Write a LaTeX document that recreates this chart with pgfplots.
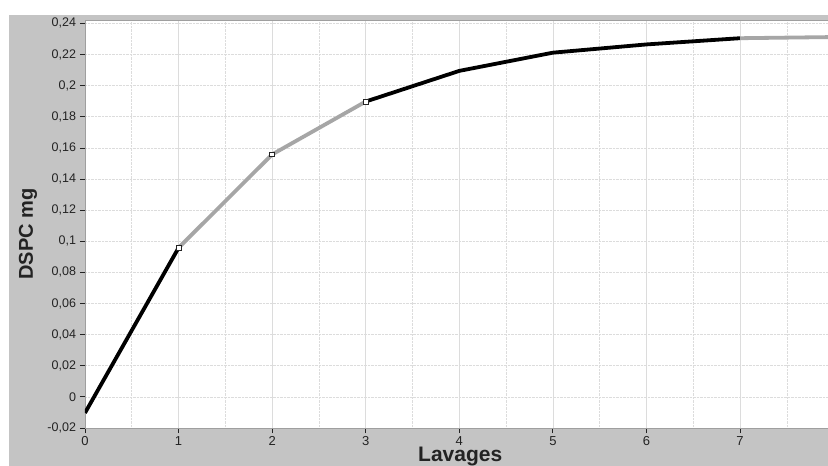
\documentclass[border=0pt]{standalone}
\usepackage{pgfplots}
\pgfplotsset{compat=1.18}
\usepackage{fontspec}
\setmainfont{Liberation Sans}
\definecolor{bg}{RGB}{196,196,196}
\definecolor{lgray}{RGB}{166,166,166}
\definecolor{txt}{RGB}{35,35,35}
\definecolor{gridc}{RGB}{220,220,220}
\begin{document}
\begin{tikzpicture}[x=1pt,y=1pt]
\path[use as bounding box] (0,0) rectangle (828,466);
\fill[bg] (9,0) rectangle (828,451);
\begin{axis}[
  at={(85pt,38pt)}, anchor=south west,
  scale only axis, width=743pt, height=408pt,
  xmin=0, xmax=7.94, ymin=-0.02, ymax=0.2422,
  xtick={0,1,2,3,4,5,6,7},
  minor xtick={0.5,1.5,2.5,3.5,4.5,5.5,6.5,7.5},
  ytick={-0.02,0,0.02,0.04,0.06,0.08,0.1,0.12,0.14,0.16,0.18,0.2,0.22,0.24},
  xmajorgrids, xminorgrids, ymajorgrids,
  major x grid style={gridc, line width=0.6pt},
  minor x grid style={gridc, densely dotted, line width=0.6pt},
  major y grid style={gridc, densely dotted, line width=0.6pt},
  tick pos=left, tick align=outside,
  major tick length=5pt, minor tick length=0pt,
  tick style={txt, line width=0.8pt},
  axis background/.style={fill=white},
  axis line style={draw=gray!75, line width=0.8pt},
  /pgf/number format/assume math mode=true,
  /pgf/number format/use comma,
  tick label style={font=\fontsize{12.5}{14}\selectfont, text=txt},
  xticklabel style={inner sep=0pt, yshift=-3pt, font=\fontsize{13}{14}\selectfont},
  yticklabel style={xshift=-0.5pt, font=\fontsize{12.5}{14}\selectfont, /pgf/number format/fixed, /pgf/number format/precision=2},
  xlabel={\textbf{Lavages}},
  ylabel={\textbf{DSPC mg}},
  xlabel style={at={(rel axis cs:0.505,0)}, anchor=base, inner sep=0pt, yshift=-34pt, font=\fontsize{21}{24}\selectfont, text=txt},
  ylabel style={at={(rel axis cs:-0.0767,0.4755)}, anchor=center, font=\fontsize{20}{24}\selectfont, text=txt},
  clip=true,
]
\addplot[black, line width=3.8pt, line join=round] coordinates {(0,-0.0103) (1,0.0958)};
\addplot[lgray, line width=3.8pt, line join=round] coordinates {(1,0.0958) (2,0.1558) (3,0.1898)};
\addplot[black, line width=3.8pt, line join=round] coordinates {(3,0.1898) (4,0.2095) (5,0.2212) (6,0.2265) (7,0.2305)};
\addplot[lgray, line width=3.8pt] coordinates {(7,0.2305) (7.94,0.2312)};
\addplot[only marks, mark=square*, mark size=2.4pt, mark options={fill=white, draw=txt, line width=0.7pt}] coordinates {(1,0.0958) (2,0.1558) (3,0.1898)};
\end{axis}
\end{tikzpicture}
\end{document}
